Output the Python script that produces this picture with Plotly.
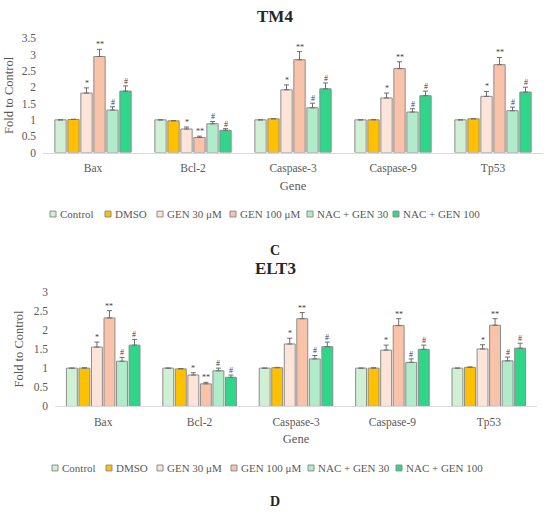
import plotly.graph_objects as go

genes = ["Bax", "Bcl-2", "Caspase-3", "Caspase-9", "Tp53"]
series = ["Control", "DMSO", "GEN 30 μM", "GEN 100 μM", "NAC + GEN 30", "NAC + GEN 100"]
colors = ["#CFF0D3", "#FFC000", "#FDE4D8", "#F8C3A8", "#B0EBCA", "#2FD68A"]
marks = ["", "", "*", "**", "#", "#"]

# TM4 values (fold to control), per series across genes
tm4_control = [1.00, 1.00, 1.00, 1.00, 1.00]
tm4_dmso = [1.01, 0.97, 1.03, 1.00, 1.03]
tm4_gen30 = [1.82, 0.72, 1.92, 1.67, 1.72]
tm4_gen100 = [2.94, 0.46, 2.84, 2.57, 2.69]
tm4_nac30 = [1.30, 0.88, 1.37, 1.24, 1.28]
tm4_nac100 = [1.88, 0.68, 1.95, 1.74, 1.85]
tm4_err_control = [0.00, 0.00, 0.00, 0.00, 0.00]
tm4_err_dmso = [0.01, 0.01, 0.01, 0.01, 0.01]
tm4_err_gen30 = [0.16, 0.06, 0.15, 0.15, 0.15]
tm4_err_gen100 = [0.22, 0.04, 0.25, 0.21, 0.22]
tm4_err_nac30 = [0.10, 0.07, 0.14, 0.10, 0.11]
tm4_err_nac100 = [0.16, 0.05, 0.18, 0.14, 0.15]

# ELT3 values
elt3_control = [1.00, 1.00, 1.00, 1.00, 1.00]
elt3_dmso = [1.00, 0.98, 1.01, 1.00, 1.02]
elt3_gen30 = [1.55, 0.82, 1.63, 1.47, 1.50]
elt3_gen100 = [2.31, 0.59, 2.29, 2.11, 2.12]
elt3_nac30 = [1.18, 0.93, 1.24, 1.15, 1.19]
elt3_nac100 = [1.60, 0.76, 1.56, 1.49, 1.52]
elt3_err_control = [0.00, 0.00, 0.00, 0.00, 0.00]
elt3_err_dmso = [0.01, 0.01, 0.01, 0.01, 0.01]
elt3_err_gen30 = [0.13, 0.06, 0.15, 0.13, 0.11]
elt3_err_gen100 = [0.19, 0.04, 0.16, 0.18, 0.17]
elt3_err_nac30 = [0.10, 0.07, 0.09, 0.09, 0.10]
elt3_err_nac100 = [0.15, 0.06, 0.12, 0.11, 0.13]

tm4_vals = [tm4_control, tm4_dmso, tm4_gen30, tm4_gen100, tm4_nac30, tm4_nac100]
tm4_errs = [tm4_err_control, tm4_err_dmso, tm4_err_gen30, tm4_err_gen100, tm4_err_nac30, tm4_err_nac100]
elt3_vals = [elt3_control, elt3_dmso, elt3_gen30, elt3_gen100, elt3_nac30, elt3_nac100]
elt3_errs = [elt3_err_control, elt3_err_dmso, elt3_err_gen30, elt3_err_gen100, elt3_err_nac30, elt3_err_nac100]

SERIF = "Liberation Serif"
GRAY = "#595959"
W, H = 550, 515

fig = go.Figure()


def add_panel(vals, errs, xa, ya, slot_px):
    for i, name in enumerate(series):
        fig.add_trace(go.Bar(
            x=genes, y=vals[i], name=name, showlegend=False,
            xaxis=xa, yaxis=ya,
            marker=dict(color=colors[i], line=dict(color="#8C8C8C", width=1)),
            error_y=dict(type="data", symmetric=False, array=errs[i],
                         arrayminus=[0] * len(genes),
                         color="#6E6E6E", thickness=1, width=2.5),
        ))
        if marks[i]:
            for g, v, e in zip(genes, vals[i], errs[i]):
                fig.add_annotation(
                    x=g, y=v + e, xref=xa, yref=ya,
                    text=marks[i], showarrow=False, yanchor="bottom",
                    xshift=(i - 2.5) * slot_px, yshift=-2,
                    font=dict(family=SERIF, size=8, color="#404040"),
                )


add_panel(tm4_vals, tm4_errs, "x", "y", 13.0)
add_panel(elt3_vals, elt3_errs, "x2", "y2", 12.5)

axis_font = dict(family=SERIF, size=11.5, color=GRAY)
title_font = dict(family=SERIF, size=12.5, color=GRAY)

fig.update_layout(
    width=W, height=H,
    margin=dict(l=0, r=0, t=0, b=0),
    paper_bgcolor="white", plot_bgcolor="white",
    barmode="group", bargap=0.22, bargroupgap=0.13,
    showlegend=False,
    xaxis=dict(domain=[43 / W, 543 / W], anchor="y", showline=True,
               linecolor="#D9D9D9", linewidth=1, ticks="", tickfont=axis_font,
               ticklabelstandoff=5,
               title=dict(text="Gene", font=title_font, standoff=6)),
    yaxis=dict(domain=[1 - 150 / H, 1 - 33 / H], anchor="x", range=[0, 3.5],
               dtick=0.5, showgrid=False, zeroline=False, showline=False,
               tickfont=axis_font, ticklabelstandoff=6,
               title=dict(text="Fold to Control", font=title_font, standoff=5)),
    xaxis2=dict(domain=[55 / W, 537 / W], anchor="y2", showline=True,
                linecolor="#D9D9D9", linewidth=1, ticks="", tickfont=axis_font,
                ticklabelstandoff=5,
                title=dict(text="Gene", font=title_font, standoff=6)),
    yaxis2=dict(domain=[1 - 410 / H, 1 - 292.3 / H], anchor="x2", range=[0, 3],
                dtick=0.5, showgrid=False, zeroline=False, showline=False,
                tickfont=axis_font, ticklabelstandoff=6,
                title=dict(text="Fold to Control", font=title_font, standoff=7)),
)

# Legend rows (drawn as swatches + text under each panel)
legend_rows = [(213, [50, 105, 157, 230, 307, 393]),
               (473, [52, 106, 157, 231, 308, 396])]
for py, xs in legend_rows:
    yc = 1 - py / H
    for i, name in enumerate(series):
        x0 = xs[i]
        fig.add_shape(type="rect", xref="paper", yref="paper",
                      x0=x0 / W, x1=(x0 + 6) / W,
                      y0=yc - 3 / H, y1=yc + 3 / H,
                      fillcolor=colors[i], line=dict(color="#8C8C8C", width=1))
        fig.add_annotation(x=(x0 + 8) / W, y=yc, xref="paper", yref="paper",
                           text=name, showarrow=False, xanchor="left",
                           yanchor="middle",
                           font=dict(family=SERIF, size=11, color=GRAY))

titles = [("TM4", 11, 17), ("C", 250, 14), ("ELT3", 269, 17), ("D", 507, 14)]
for txt, py, sz in titles:
    fig.add_annotation(x=0.5, y=1 - py / H, xref="paper", yref="paper",
                       text=f"<b>{txt}</b>", showarrow=False, yanchor="middle",
                       font=dict(family=SERIF, size=sz, color="#262626"))

fig.write_html("out.html", config={"displayModeBar": False},
               post_script="document.body.style.margin='0';")
